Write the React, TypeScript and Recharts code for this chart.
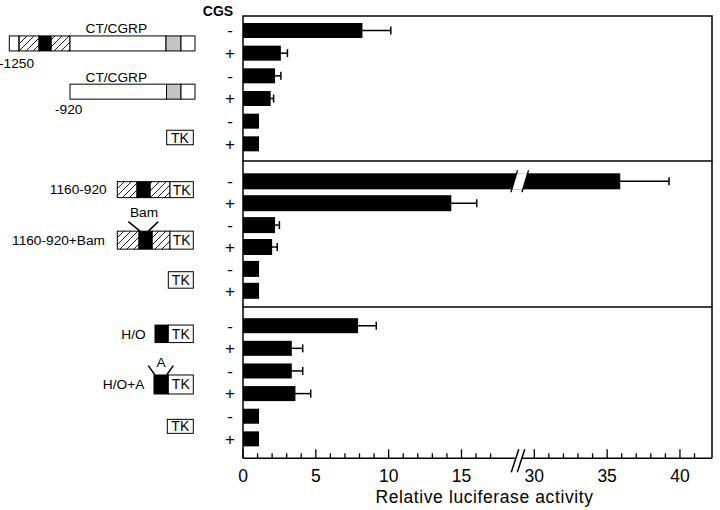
import React from "react";
import { Bar, BarChart, ErrorBar, XAxis, YAxis } from "recharts";

// CGS treatment, same order in every panel
const cgsRows = ["-", "+", "-", "+", "-", "+"];

// relative luciferase activity and error
const ctcgrpValues = [8.2, 2.6, 2.2, 1.9, 1.1, 1.1];
const ctcgrpErrors = [1.95, 0.45, 0.4, 0.2, 0, 0];
const enhancerValues = [35.9, 14.3, 2.2, 2.0, 1.1, 1.1];
const enhancerErrors = [3.35, 1.75, 0.3, 0.35, 0, 0];
const hoValues = [7.9, 3.35, 3.35, 3.6, 1.1, 1.1];
const hoErrors = [1.25, 0.75, 0.75, 1.05, 0, 0];

// x axis: broken between ~19 and ~29
const majorTicks = [0, 5, 10, 15, 30, 35, 40];
const minorTicks = [0, 1, 2, 3, 4, 5, 6, 7, 8, 9, 10, 11, 12, 13, 14, 15, 16, 17,
  30, 31, 32, 33, 34, 35, 36, 37, 38, 39, 40, 41];
const BREAK_FROM = 18.9;
const BREAK_TO = 28.9;
const GAP = BREAK_TO - BREAK_FROM;
const X_MAX = 42.2 - GAP;

const toAxis = (v: number) => (v > BREAK_FROM ? v - GAP : v);
const fromAxis = (t: number) => (t > BREAK_FROM ? Math.round(t + GAP) : t);

const panels = [
  { values: ctcgrpValues, errors: ctcgrpErrors },
  { values: enhancerValues, errors: enhancerErrors },
  { values: hoValues, errors: hoErrors },
].map((p, k) =>
  cgsRows.map((sign, i) => ({
    row: `${k}:${i}`,
    sign,
    value: p.values[i],
    t: toAxis(p.values[i]),
    err: p.errors[i],
  }))
);

// ---- layout of the construct drawings on the left ----
type Seg = [number, number, string];
interface Construct {
  dy: number;
  h: number;
  segs: Seg[];
  texts: { s: string; x: number; dy: number; anchor: "start" | "middle" | "end" }[];
  marks?: [number, number, number, number][];
}
const constructs: Construct[] = [
  {
    dy: 13.1, h: 15,
    segs: [[9.3, 19, "w"], [19, 39, "h"], [39, 51, "b"], [51, 70, "h"], [70, 166, "w"], [166, 181, "g"], [181, 195, "w"]],
    texts: [{ s: "CT/CGRP", x: 116.3, dy: -10.2, anchor: "middle" }, { s: "-1250", x: -1, dy: 24.8, anchor: "start" }],
  },
  {
    dy: 16, h: 15,
    segs: [[70, 166.5, "w"], [166.5, 181, "g"], [181, 195, "w"]],
    texts: [{ s: "CT/CGRP", x: 116.3, dy: -10.1, anchor: "middle" }, { s: "-920", x: 55, dy: 22.2, anchor: "start" }],
  },
  { dy: 16.5, h: 14.5, segs: [[166.7, 193.3, "tk"]], texts: [] },
  {
    dy: 8.4, h: 16,
    segs: [[117.3, 137, "h"], [137, 150, "b"], [150, 170, "h"], [170, 193.3, "tk"]],
    texts: [{ s: "1160-920", x: 106.7, dy: 4.6, anchor: "end" }],
  },
  {
    dy: 15.1, h: 18,
    segs: [[117.3, 139, "h"], [139, 152, "b"], [152, 170, "h"], [170, 193.3, "tk"]],
    texts: [{ s: "1160-920+Bam", x: 105, dy: 5, anchor: "end" }, { s: "Bam", x: 144, dy: -23, anchor: "middle" }],
    marks: [[128.3, -18.5, 140, -9], [158.3, -18.5, 148.3, -9]],
  },
  { dy: 11.1, h: 16.5, segs: [[168.3, 193.3, "tk"]], texts: [] },
  {
    dy: 8.3, h: 17.5,
    segs: [[155, 168.3, "b"], [168.3, 193.3, "tk"]],
    texts: [{ s: "H/O", x: 145.7, dy: 5, anchor: "end" }],
  },
  {
    dy: 13.7, h: 19,
    segs: [[154, 168.3, "b"], [168.3, 193.3, "tk"]],
    texts: [{ s: "H/O+A", x: 144.3, dy: 5, anchor: "end" }, { s: "A", x: 161, dy: -17, anchor: "middle" }],
    marks: [[148.3, -18.8, 155, -9.5], [173.3, -18.8, 166.7, -9.5]],
  },
  { dy: 10.3, h: 14, segs: [[167.3, 193.3, "tk"]], texts: [] },
];

// chart placement per panel
const PLOT_LEFT = 243;
const PLOT_RIGHT = 712;
const X_AXIS_H = 51.7;
const panelLayout = [
  { top: 0, height: 163, margin: { top: 16, right: 8, bottom: 2, left: 0 }, pad: { top: 3, bottom: 6 }, barSize: 15 },
  { top: 159, height: 150, margin: { top: 2, right: 8, bottom: 2, left: 0 }, pad: { top: 9.3, bottom: 5.3 }, barSize: 16 },
  { top: 305, height: 205, margin: { top: 2, right: 8, bottom: 0, left: 0 }, pad: { top: 7.2, bottom: 8.3 }, barSize: 15 },
];

function drawConstruct(c: Construct, y: number, hatchId: string) {
  const cy = y + c.dy;
  const fillOf = (k: string) =>
    k === "h" ? `url(#${hatchId})` : k === "b" ? "#000" : k === "g" ? "#c4c4c4" : "#fff";
  return (
    <g>
      {c.segs.map(([x1, x2, k], j) => (
        <g key={j}>
          <rect x={x1} y={cy - c.h / 2} width={x2 - x1} height={c.h} fill={fillOf(k)} stroke="#000" strokeWidth={1} />
          {k === "tk" && (
            <text x={(x1 + x2) / 2} y={cy + 5} textAnchor="middle" fontSize={14} fill="#000">
              TK
            </text>
          )}
        </g>
      ))}
      {c.texts.map((tx, j) => (
        <text key={j} x={tx.x} y={cy + tx.dy} textAnchor={tx.anchor} fontSize={13.7} fill="#000">
          {tx.s}
        </text>
      ))}
      {(c.marks || []).map(([x1, d1, x2, d2], j) => (
        <line key={j} x1={x1} y1={cy + d1} x2={x2} y2={cy + d2} stroke="#000" strokeWidth={1.5} />
      ))}
    </g>
  );
}

function makeYTick(panel: number) {
  const hatchId = `hatch${panel}`;
  const L = panelLayout[panel];
  const last = panel === panelLayout.length - 1;
  const fTop = L.margin.top;
  const fBottom = L.height - L.margin.bottom - (last ? X_AXIS_H : 0);
  return function YTick(props: any) {
    const { y, payload } = props;
    const i = Number(String(payload.value).split(":")[1]);
    return (
      <g>
        {i === 0 && (
          <>
            <defs>
              <pattern id={hatchId} patternUnits="userSpaceOnUse" width={7} height={7}>
                <path d="M-1,1 L1,-1 M0,7 L7,0 M6,8 L8,6" stroke="#000" strokeWidth={0.9} />
              </pattern>
            </defs>
            {/* panel frame: left, top, right (bottom is the next panel or the x axis) */}
            <path
              d={`M${PLOT_LEFT},${fBottom} L${PLOT_LEFT},${fTop} L${PLOT_RIGHT},${fTop} L${PLOT_RIGHT},${fBottom}`}
              fill="none"
              stroke="#000"
              strokeWidth={1.5}
            />
          </>
        )}
        {panel === 0 && i === 0 && (
          <text x={218} y={16} textAnchor="middle" fontSize={14} fontWeight="bold" fill="#000">
            CGS
          </text>
        )}
        <text x={230} y={y + 6} textAnchor="middle" fontSize={17} fill="#000" stroke="none">
          {cgsRows[i]}
        </text>
        {i % 2 === 0 && drawConstruct(constructs[panel * 3 + i / 2], y, hatchId)}
      </g>
    );
  };
}

// bar with a "//" cut where it crosses the axis break
function BrokenBar(props: any) {
  const { x, y, width, height, payload } = props;
  if (!(payload.t > BREAK_FROM)) {
    return <rect x={x} y={y} width={width} height={height} fill="#000" />;
  }
  const bx = x + (width * (BREAK_FROM + 0.1)) / payload.t;
  const cy = y + height / 2;
  const k = 0.3;
  const g = 5.5;
  const at = (cx: number, yy: number) => cx + k * (cy - yy);
  return (
    <g>
      <rect x={x} y={y} width={width} height={height} fill="#000" />
      <polygon
        points={`${at(bx - g, y + height)},${y + height} ${at(bx + g, y + height)},${y + height} ${at(bx + g, y)},${y} ${at(bx - g, y)},${y}`}
        fill="#fff"
      />
      {[-g, g].map((d) => (
        <line key={d} x1={at(bx + d, y + height + 3)} y1={y + height + 3} x2={at(bx + d, y - 3)} y2={y - 3} stroke="#000" strokeWidth={1.3} />
      ))}
    </g>
  );
}

function XTick(props: any) {
  const { x, y, payload } = props;
  const t = payload.value;
  if (t === BREAK_FROM) {
    return (
      <g>
        <rect x={x - 3} y={y - 2.5} width={6} height={5} fill="#fff" />
        {[-3, 3].map((d) => (
          <line key={d} x1={x + d - 4} y1={y + 14} x2={x + d + 3.5} y2={y - 9} stroke="#000" strokeWidth={1.5} />
        ))}
      </g>
    );
  }
  const v = fromAxis(t);
  const major = majorTicks.includes(v);
  return (
    <g>
      <line x1={x} x2={x} y1={y} y2={y - (major ? 9 : 5)} stroke="#000" strokeWidth={1.3} />
      {major && (
        <text x={x} y={y + 23.2} textAnchor="middle" fontSize={17.5} fill="#000">
          {v}
        </text>
      )}
    </g>
  );
}

const axisTicks = [...minorTicks.map(toAxis), BREAK_FROM].sort((a, b) => a - b);

export default function App() {
  return (
    <div
      style={{
        position: "absolute",
        left: 0,
        top: 0,
        width: 720,
        height: 510,
        background: "#fff",
        fontFamily: "'Liberation Sans', Arial, Helvetica, sans-serif",
      }}
    >
      {panels.map((data, k) => {
        const L = panelLayout[k];
        const last = k === panels.length - 1;
        return (
          <div key={k} style={{ position: "absolute", left: 0, top: L.top }}>
            <BarChart width={720} height={L.height} data={data} layout="vertical" margin={L.margin}>
              {last ? (
                <XAxis
                  type="number"
                  dataKey="t"
                  domain={[0, X_MAX]}
                  allowDataOverflow
                  ticks={axisTicks}
                  interval={0}
                  tickLine={false}
                  tickSize={0}
                  tickMargin={0}
                  tick={<XTick />}
                  axisLine={{ stroke: "#000", strokeWidth: 1.5 }}
                  height={X_AXIS_H}
                  label={{
                    value: "Relative luciferase activity",
                    position: "insideBottom",
                    offset: 7.5,
                    dx: 7,
                    fill: "#000",
                    fontSize: 17.5,
                    letterSpacing: 0.6,
                  }}
                />
              ) : (
                <XAxis type="number" dataKey="t" domain={[0, X_MAX]} allowDataOverflow hide />
              )}
              <YAxis
                type="category"
                dataKey="row"
                width={PLOT_LEFT}
                interval={0}
                tickLine={false}
                tickSize={0}
                tickMargin={0}
                tick={React.createElement(makeYTick(k))}
                axisLine={false}
                padding={L.pad}
              />
              <Bar dataKey="t" fill="#000" barSize={L.barSize} isAnimationActive={false} shape={<BrokenBar />}>
                <ErrorBar dataKey="err" direction="x" width={4} stroke="#000" strokeWidth={1.5} />
              </Bar>
            </BarChart>
          </div>
        );
      })}
    </div>
  );
}
